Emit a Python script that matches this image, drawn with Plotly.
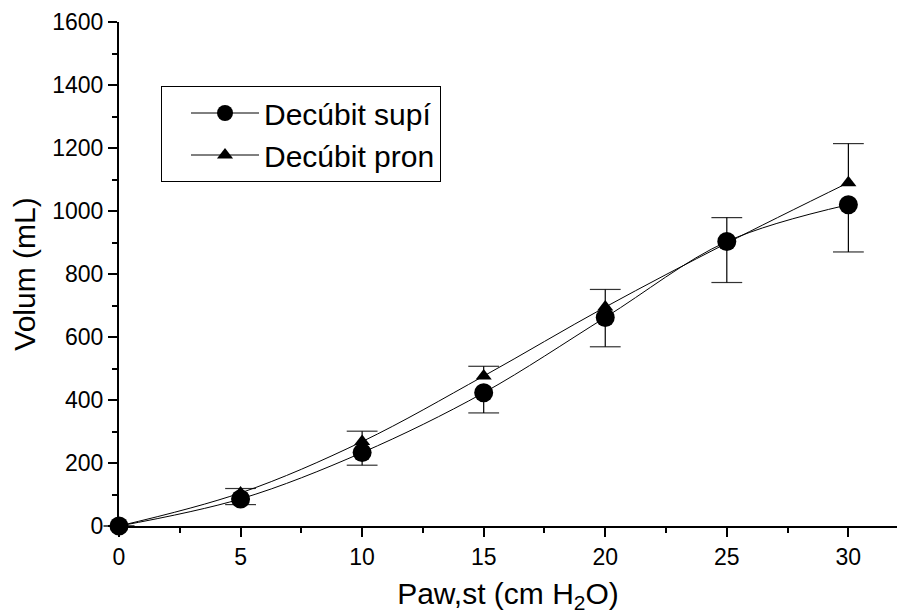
import numpy as np
import plotly.graph_objects as go

# Airway pressure (cm H2O) and lung volume (mL) for two body positions
pressure = [0, 5, 10, 15, 20, 25, 30]
supine_vol = [0, 86, 233, 423, 662, 903, 1020]
supine_err = [0, 18, 40, 64, 93, 130, 150]
prone_vol = [0, 105, 268, 476, 695, 898, 1090]
prone_err = [0, 14, 33, 31, 56, 81, 124]

series_names = ["Decúbit supí", "Decúbit pron"]
x_title = "Paw,st (cm H<sub>2</sub>O)"
y_title = "Volum (mL)"

FONT = "Arial, Liberation Sans, sans-serif"
INK = "black"
CAP = "#333333"

zeros = [0] * len(pressure)
fig = go.Figure()

# error-bar caps: lower for supine, upper for prone
fig.add_trace(go.Scatter(
    x=pressure, y=(np.array(supine_vol) - np.array(supine_err)).tolist(),
    mode="markers", showlegend=False, hoverinfo="skip", cliponaxis=False,
    marker=dict(symbol="line-ew", size=22, line=dict(width=1.2, color=CAP)),
))
fig.add_trace(go.Scatter(
    x=pressure, y=(np.array(prone_vol) + np.array(prone_err)).tolist(),
    mode="markers", showlegend=False, hoverinfo="skip", cliponaxis=False,
    marker=dict(symbol="line-ew", size=22, line=dict(width=1.2, color=CAP)),
))

fig.add_trace(go.Scatter(
    x=pressure, y=supine_vol, name=series_names[0],
    mode="lines+markers", cliponaxis=False,
    line=dict(color=INK, width=1, shape="spline", smoothing=1),
    marker=dict(symbol="circle", size=19, color=INK),
    error_y=dict(type="data", symmetric=False, array=zeros, arrayminus=supine_err,
                 width=0, thickness=1.2, color=INK),
))
fig.add_trace(go.Scatter(
    x=pressure, y=prone_vol, name=series_names[1],
    mode="lines+markers", cliponaxis=False,
    line=dict(color=INK, width=1, shape="spline", smoothing=1),
    marker=dict(symbol="triangle-up", size=14, color=INK),
    error_y=dict(type="data", symmetric=False, array=prone_err, arrayminus=zeros,
                 width=0, thickness=1.2, color=INK),
))

axis_common = dict(
    showline=True, linecolor=INK, linewidth=2, mirror=False,
    showgrid=False, zeroline=False,
    ticks="outside", ticklen=9, tickwidth=2, tickcolor=INK,
    tickfont=dict(family=FONT, size=23, color=INK),
)

fig.update_xaxes(
    range=[0, 32], tickmode="array", tickvals=pressure,
    minor=dict(ticks="outside", ticklen=5, tickwidth=2, tickcolor=INK, dtick=2.5, tick0=0),
    title=dict(text=x_title, font=dict(family=FONT, size=30, color=INK), standoff=14),
    **axis_common,
)
fig.update_yaxes(
    range=[0, 1600], dtick=200, tick0=0,
    minor=dict(ticks="outside", ticklen=5, tickwidth=2, tickcolor=INK, dtick=100, tick0=0),
    title=dict(text=y_title, font=dict(family=FONT, size=30, color=INK), standoff=8),
    **axis_common,
)

fig.update_layout(
    width=902, height=614,
    margin=dict(l=119, r=5, t=22, b=88, autoexpand=False),
    paper_bgcolor="white", plot_bgcolor="white",
    font=dict(family=FONT, color=INK),
    legend=dict(
        x=0.054, y=0.873, xanchor="left", yanchor="top",
        bgcolor="white", bordercolor=INK, borderwidth=1,
        font=dict(family=FONT, size=30, color=INK),
        itemwidth=68, indentation=24, tracegroupgap=0,
    ),
    showlegend=True,
)

fig.write_html("out.html")
